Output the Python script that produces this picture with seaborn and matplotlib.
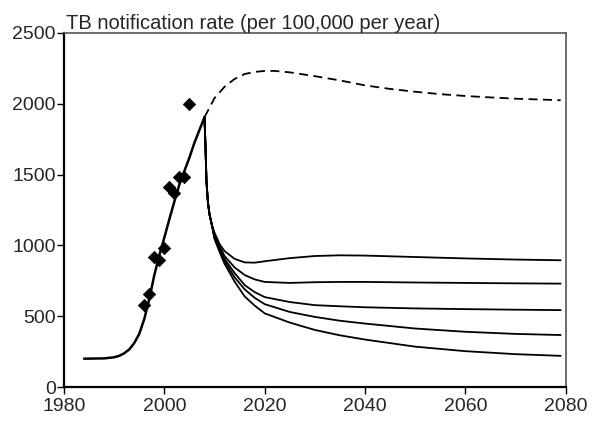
import pandas as pd
import seaborn as sns
import matplotlib.pyplot as plt

# Observed notification rates (diamonds)
obs_years = [1996, 1997, 1998, 1999, 2000, 2001, 2002, 2003, 2004, 2005]
obs_rates = [580, 655, 915, 900, 985, 1410, 1370, 1480, 1480, 2000]

# Model fit up to 2008
fit_years = [1984, 1988, 1990, 1991, 1992, 1993, 1994, 1995, 1996, 1997, 1998,
             1999, 2000, 2001, 2002, 2003, 2004, 2005, 2006, 2007, 2008]
fit_rates = [200, 202, 210, 220, 238, 265, 310, 375, 480, 620, 790,
             930, 1055, 1185, 1310, 1430, 1525, 1620, 1725, 1815, 1905]

# No-intervention projection (dashed)
base_years = [2008, 2010, 2012, 2014, 2016, 2018, 2020, 2022, 2025, 2030, 2035,
              2040, 2045, 2050, 2055, 2060, 2065, 2070, 2075, 2079]
base_rates = [1905, 2040, 2120, 2175, 2210, 2225, 2232, 2232, 2222, 2195, 2165,
              2130, 2105, 2085, 2068, 2055, 2045, 2036, 2030, 2025]

# Intervention scenarios (solid)
drop_years = [2008, 2008.2, 2008.4, 2008.7, 2009, 2009.5]
drop_rates = [1905, 1700, 1450, 1300, 1220, 1140]
scen_years = [2010, 2011, 2012, 2014, 2016, 2018, 2020, 2025, 2030, 2035, 2040,
              2050, 2060, 2070, 2079]
scen_a = [1090, 1010, 960, 905, 880, 878, 888, 910, 925, 930, 928, 918, 908, 900, 895]
scen_b = [1075, 995, 925, 845, 791, 760, 742, 735, 740, 742, 742, 738, 735, 732, 730]
scen_c = [1065, 980, 905, 805, 720, 670, 635, 600, 578, 570, 563, 555, 550, 546, 543]
scen_d = [1055, 970, 890, 775, 690, 630, 585, 530, 495, 468, 448, 413, 390, 375, 367]
scen_e = [1045, 955, 870, 745, 640, 575, 520, 455, 403, 365, 335, 285, 253, 232, 220]

sns.set_style("white")
plt.rcParams['font.family'] = ['Liberation Sans', 'DejaVu Sans']

fig = plt.figure(figsize=(5.98, 4.25), dpi=100)
ax = fig.add_axes([0.107, 0.0894, 0.839, 0.833])

sns.lineplot(x=fit_years, y=fit_rates, color="black", lw=1.8, ax=ax)
sns.lineplot(x=base_years, y=base_rates, color="black", lw=1.3, ax=ax,
             linestyle=(0, (5, 3)))
for s in [scen_a, scen_b, scen_c, scen_d, scen_e]:
    sns.lineplot(x=drop_years + scen_years, y=drop_rates + s, color="black",
                 lw=1.3, ax=ax)
sns.scatterplot(x=obs_years, y=obs_rates, marker="D", s=40, color="black",
                edgecolor="black", ax=ax, zorder=5)

ax.set_xlim(1980, 2080)
ax.set_ylim(0, 2500)
ax.set_xticks([1980, 2000, 2020, 2040, 2060, 2080])
ax.set_yticks([0, 500, 1000, 1500, 2000, 2500])
ax.tick_params(axis="both", which="both", direction="out", length=5, width=1,
               labelsize=14, color="black", left=True, bottom=True)
ax.tick_params(axis="x", pad=3)
ax.tick_params(axis="y", pad=1)
for side in ["left", "bottom"]:
    ax.spines[side].set_color("black")
    ax.spines[side].set_linewidth(1.6)
for side in ["top", "right"]:
    ax.spines[side].set_color("#555555")
    ax.spines[side].set_linewidth(1.2)

ax.set_xlabel("")
ax.set_ylabel("")
ax.set_title("TB notification rate (per 100,000 per year)", loc="left",
             fontsize=14.5, pad=3, x=0.005)

fig.savefig("out.png", dpi=100)
